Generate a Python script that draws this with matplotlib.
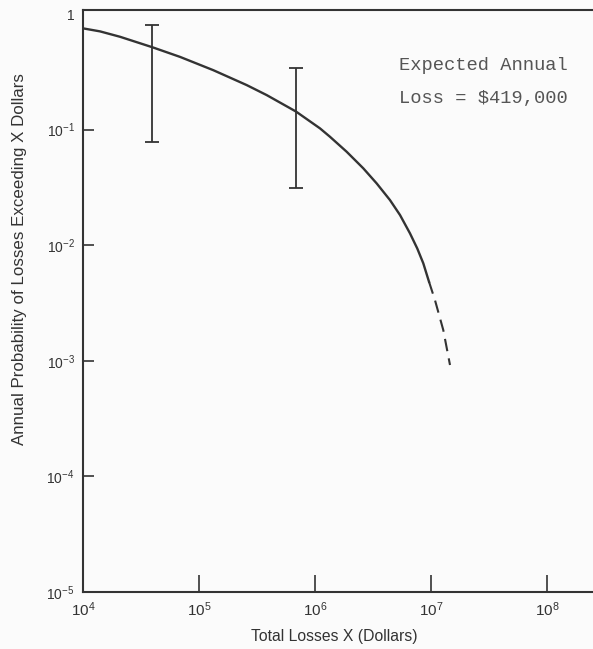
import numpy as np
import matplotlib
matplotlib.use("Agg")
import matplotlib.pyplot as plt

# Data
curve_x = [1.0e4, 1.402e4, 2.084e4, 3.99e4, 6.86e4, 1.327e5, 2.576e5, 3.835e5, 6.86e5,
           1.104e6, 1.346e6, 1.875e6, 2.608e6, 3.40e6, 4.43e6, 5.41e6, 6.59e6, 7.62e6,
           8.59e6, 9.62e6]
curve_y = [0.752, 0.708, 0.636, 0.515, 0.426, 0.327, 0.243, 0.199, 0.1434,
           0.1026, 0.0868, 0.0644, 0.0463, 0.0343, 0.0246, 0.01825, 0.01268, 0.00937,
           0.00697, 0.00483]
dashed_x = [9.62e6, 1.082e7, 1.277e7, 1.459e7]
dashed_y = [0.00483, 0.00336, 0.001846, 0.00092]
err_x = [3.9e4, 6.85e5]
err_low = [0.0786, 0.031]
err_high = [0.80, 0.339]
err_mid = [0.515, 0.143]

x_ticks = [1e4, 1e5, 1e6, 1e7, 1e8]
x_tick_labels = ["$10^{4}$", "$10^{5}$", "$10^{6}$", "$10^{7}$", "$10^{8}$"]
y_ticks = [1e-5, 1e-4, 1e-3, 1e-2, 1e-1, 1]
y_tick_labels = ["$10^{-5}$", "$10^{-4}$", "$10^{-3}$", "$10^{-2}$", "$10^{-1}$", "1"]

plt.rcParams['font.family'] = ['Liberation Sans', 'DejaVu Sans']
plt.rcParams['mathtext.default'] = 'regular'

ink = '#333333'
fig = plt.figure(figsize=(5.93, 6.49), dpi=100, facecolor='#fbfbfb')
ax = fig.add_axes([83/593, 1 - 592/649, 1 - 83/593, (592 - 10)/649])
ax.set_facecolor('#fbfbfb')
ax.set_xscale('log')
ax.set_yscale('log')
ax.set_xlim(1e4, 10**8.397)
ax.set_ylim(1e-5, 10**0.035)

ax.plot(curve_x, curve_y, color=ink, lw=1.7, solid_joinstyle='round')
ax.plot(dashed_x, dashed_y, color=ink, lw=1.5, linestyle=(0, (6, 3.5)))

lo = [m - l for m, l in zip(err_mid, err_low)]
hi = [h - m for m, h in zip(err_mid, err_high)]
ax.errorbar(err_x, err_mid, yerr=[lo, hi], fmt='none', ecolor=ink,
            elinewidth=1.3, capsize=5, capthick=1.3)

ax.set_xticks(x_ticks)
ax.set_xticklabels(x_tick_labels, fontsize=11)
ax.set_yticks(y_ticks)
ax.set_yticklabels(y_tick_labels, fontsize=10)
ax.minorticks_off()
ax.tick_params(axis='x', direction='in', length=12, width=1.2, color=ink, labelcolor=ink, pad=6)
ax.tick_params(axis='y', direction='in', length=8, width=1.2, color=ink, labelcolor=ink, pad=6)
for t in (ax.yaxis.get_major_ticks()[0], ax.yaxis.get_major_ticks()[-1]):
    t.tick1line.set_visible(False)
ax.xaxis.get_major_ticks()[0].tick1line.set_visible(False)

for s in ('left', 'bottom', 'top'):
    ax.spines[s].set_color(ink)
    ax.spines[s].set_linewidth(1.5)
ax.spines['right'].set_visible(False)

fig.text(334/593, 1 - 637/649, "Total Losses X (Dollars)", fontsize=11.3, color=ink,
         ha='center', va='center')
fig.text(20/593, 1 - 259/649, "Annual Probability of Losses Exceeding X Dollars",
         fontsize=12.2, color=ink, ha='center', va='center', rotation=90)

fig.text(399/593, 1 - 66/649, "Expected Annual",
         family='Liberation Mono', fontsize=13.5, color='#555555', va='center', ha='left')
fig.text(399/593, 1 - 98/649, "Loss = $419,000",
         family='Liberation Mono', fontsize=13.5, color='#555555', va='center', ha='left')

fig.savefig("out.png", dpi=100, facecolor=fig.get_facecolor())
